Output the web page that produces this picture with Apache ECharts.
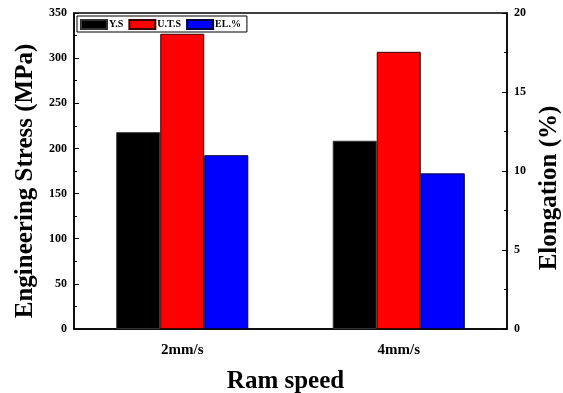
<!DOCTYPE html>
<html>
<head>
<meta charset="utf-8">
<script src="https://cdn.jsdelivr.net/npm/echarts@6/dist/echarts.min.js"></script>
<style>
  html, body { margin: 0; padding: 0; background: #fff; }
  #plot { width: 563px; height: 393px; }
</style>
</head>
<body>
<div id="plot"></div>
<script>
var speeds = ['2mm/s', '4mm/s'];
var yieldStress = [218, 208.5];
var utsStress = [327, 307];
var elongation = [11.0, 9.85];
var stressTicks = [0, 50, 100, 150, 200, 250, 300, 350];
var elongTicks = [0, 5, 10, 15, 20];

var serif = '"Liberation Serif", "Times New Roman", serif';
var chart = echarts.init(document.getElementById('plot'), null, {renderer: 'canvas'});

var option = {
  animation: false,
  textStyle: { fontFamily: serif },
  grid: {
    left: 74, right: 56, top: 13, bottom: 64,
    containLabel: false,
    outerBoundsMode: 'none',
    show: true, borderColor: '#000', borderWidth: 1.5, backgroundColor: 'transparent'
  },
  legend: {
    left: 77, top: 16,
    orient: 'horizontal',
    icon: 'rect',
    itemWidth: 26, itemHeight: 9, itemGap: 5,
    padding: [3, 6, 2, 3],
    borderColor: '#000', borderWidth: 1,
    backgroundColor: '#fff',
    textStyle: { fontFamily: serif, fontWeight: 'bold', fontSize: 10, color: '#000', padding: [0, 0, 0, -3] },
    data: ['Y.S', 'U.T.S', 'EL.%']
  },
  xAxis: {
    type: 'category',
    data: speeds,
    name: 'Ram speed',
    nameLocation: 'middle',
    nameGap: 40,
    nameTextStyle: { fontFamily: serif, fontWeight: 'bold', fontSize: 25, color: '#000', padding: [0, 10, 0, 0] },
    axisLine: { lineStyle: { color: '#000', width: 1.5 } },
    axisTick: { show: false },
    axisLabel: { fontFamily: serif, fontWeight: 'bold', fontSize: 15, color: '#000', margin: 14 }
  },
  yAxis: [
    {
      type: 'value',
      min: stressTicks[0],
      max: stressTicks[stressTicks.length - 1],
      interval: 50,
      name: 'Engineering Stress (MPa)',
      nameLocation: 'middle',
      nameRotate: 90,
      nameGap: 35,
      nameTextStyle: { fontFamily: serif, fontWeight: 'bold', fontSize: 25, color: '#000', padding: [0, 20, 0, 0] },
      axisLine: { show: true, lineStyle: { color: '#000', width: 1.5 } },
      axisTick: { show: true, inside: true, length: 5, lineStyle: { color: '#000', width: 1 } },
      minorTick: { show: true, splitNumber: 2, length: 3, lineStyle: { color: '#000' } },
      splitLine: { show: false },
      axisLabel: { fontFamily: serif, fontWeight: 'bold', fontSize: 12, color: '#000', margin: 7 }
    },
    {
      type: 'value',
      position: 'right',
      min: elongTicks[0],
      max: elongTicks[elongTicks.length - 1],
      interval: 5,
      name: 'Elongation (%)',
      nameLocation: 'middle',
      nameRotate: 90,
      nameGap: 19,
      nameTextStyle: { fontFamily: serif, fontWeight: 'bold', fontSize: 25, color: '#000', padding: [0, 34, 0, 0] },
      axisLine: { show: true, lineStyle: { color: '#000', width: 1.5 } },
      axisTick: { show: true, inside: true, length: 5, lineStyle: { color: '#000', width: 1 } },
      minorTick: { show: true, splitNumber: 2, length: 3, lineStyle: { color: '#000' } },
      splitLine: { show: false },
      axisLabel: { fontFamily: serif, fontWeight: 'bold', fontSize: 12, color: '#000', margin: 7 }
    }
  ],
  series: [
    {
      name: 'Y.S', type: 'bar', yAxisIndex: 0, data: yieldStress,
      barGap: '0%', barCategoryGap: '39%',
      itemStyle: { color: '#000', borderColor: '#333', borderWidth: 1 }
    },
    {
      name: 'U.T.S', type: 'bar', yAxisIndex: 0, data: utsStress,
      barGap: '0%', barCategoryGap: '39%',
      itemStyle: { color: '#ff0000', borderColor: '#3a0000', borderWidth: 1 }
    },
    {
      name: 'EL.%', type: 'bar', yAxisIndex: 1, data: elongation,
      barGap: '0%', barCategoryGap: '39%',
      itemStyle: { color: '#0000ff', borderColor: '#000040', borderWidth: 1 }
    }
  ]
};
chart.setOption(option);
</script>
</body>
</html>
